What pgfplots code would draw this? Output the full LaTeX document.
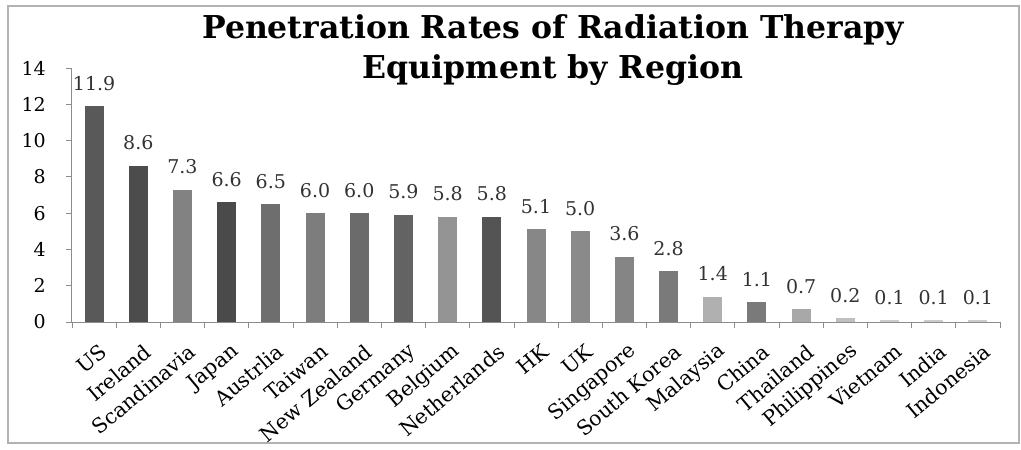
\documentclass[border=0pt]{standalone}
\usepackage{fontspec}
\setmainfont{DejaVu Serif}
\usepackage{pgfplots}
\pgfplotsset{compat=1.18}
\definecolor{axisgray}{HTML}{8C8C8C}
\newcommand\tf{\fontsize{19}{22}\selectfont}
\newcommand\xf{\fontsize{20.5}{24}\selectfont}
\pgfplotsset{b/.style={ybar, fill=#1, draw=none, bar width=19pt, bar shift=0pt}}
\begin{document}
\begin{tikzpicture}
\useasboundingbox (0pt,0pt) rectangle (1021pt,-450pt);
\fill[white] (0pt,0pt) rectangle (1021pt,-450pt);
\draw[color=gray!60, line width=1.5pt] (8pt,-6pt) rectangle (1019pt,-443pt);
\node[font=\fontsize{31.5}{36}\selectfont\bfseries, anchor=base, inner sep=0pt] at (553pt,-38pt) {Penetration Rates of Radiation Therapy};
\node[font=\fontsize{31.5}{36}\selectfont\bfseries, anchor=base, inner sep=0pt] at (553pt,-78pt) {Equipment by Region};
\begin{axis}[
  at={(72pt,-322pt)}, anchor=south west,
  scale only axis, width=928pt, height=254pt,
  xmin=-0.5, xmax=20.5, ymin=0, ymax=14,
  axis lines*=left,
  axis line style={-, axisgray, line width=1pt},
  ytick={0,2,...,14},
  xtick={0,...,20},
  xticklabels={US,Ireland,Scandinavia,Japan,Austrlia,Taiwan,New Zealand,Germany,Belgium,Netherlands,HK,UK,Singapore,South Korea,Malaysia,China,Thailand,Philippines,Vietnam,India,Indonesia},
  major x tick style={draw=none},
  minor xtick={-0.5,0.5,...,20.5},
  tick style={axisgray, line width=0.8pt},
  tick align=outside, major tick length=6pt, minor tick length=6pt,
  /pgf/number format/assume math mode=true,
  yticklabel style={font=\tf, inner sep=0pt, anchor=east, xshift=-20pt},
  xticklabel style={font=\xf, inner sep=0pt, rotate=40, anchor=east, xshift=-6pt, yshift=-22pt},
  nodes near coords={\pgfmathprintnumber[fixed,fixed zerofill,precision=1]{\pgfplotspointmeta}},
  nodes near coords style={font=\tf, anchor=base, inner sep=0pt, yshift=16pt, text=black!80},
  clip=false,
]
\addplot[b={black!65}] coordinates {(0,11.9)};
\addplot[b={black!70}] coordinates {(1,8.6)};
\addplot[b={black!49}] coordinates {(2,7.3)};
\addplot[b={black!71}] coordinates {(3,6.6)};
\addplot[b={black!57}] coordinates {(4,6.5)};
\addplot[b={black!51}] coordinates {(5,6.0)};
\addplot[b={black!58}] coordinates {(6,6.0)};
\addplot[b={black!61}] coordinates {(7,5.9)};
\addplot[b={black!42}] coordinates {(8,5.8)};
\addplot[b={black!67}] coordinates {(9,5.8)};
\addplot[b={black!47}] coordinates {(10,5.1)};
\addplot[b={black!46}] coordinates {(11,5.0)};
\addplot[b={black!48}] coordinates {(12,3.6)};
\addplot[b={black!52}] coordinates {(13,2.8)};
\addplot[b={black!31}] coordinates {(14,1.4)};
\addplot[b={black!52}] coordinates {(15,1.1)};
\addplot[b={black!34}] coordinates {(16,0.7)};
\addplot[b={black!25}] coordinates {(17,0.2)};
\addplot[b={black!20}] coordinates {(18,0.1)};
\addplot[b={black!20}] coordinates {(19,0.1)};
\addplot[b={black!20}] coordinates {(20,0.1)};
\end{axis}
\end{tikzpicture}
\end{document}
